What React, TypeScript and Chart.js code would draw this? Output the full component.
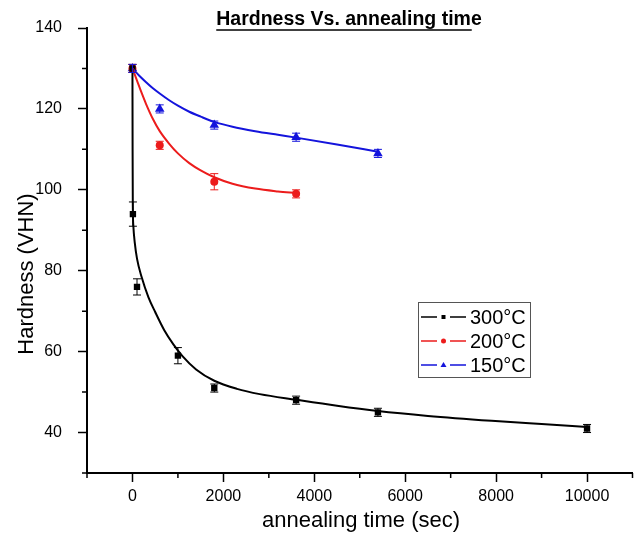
import React, { useEffect, useRef } from 'react';
import { Chart, registerables } from 'chart.js';
Chart.register(...registerables);

const FONT = '"Liberation Sans", Arial, Helvetica, sans-serif';

// Measured data (annealing time in sec, hardness in VHN)
const time300 = [0, 10, 100, 1000, 1800, 3600, 5400, 10000];
const hard300 = [130, 94, 76, 59, 51, 48, 45, 41];
const err300 = [1, 3, 2, 2, 1, 1, 1, 1];

const time200 = [0, 600, 1800, 3600];
const hard200 = [130, 111, 102, 99];
const err200 = [1, 1, 2, 1];

const time150 = [0, 600, 1800, 3600, 5400];
const hard150 = [130, 120, 116, 113, 109];
const err150 = [1, 1, 1, 1, 1];

// Fitted curves
const fitTime300 = [0, 3, 8, 20, 50, 100, 200, 350, 500, 700, 900, 1100, 1400, 1800, 2300, 2800, 3600, 4500, 5400, 6500, 7900, 9000, 10000];
const fitHard300 = [130, 110, 96, 91, 87, 83, 78.5, 73.5, 69.8, 65.3, 61.8, 58.9, 55.6, 52.8, 50.8, 49.5, 48.1, 46.6, 45.3, 44.1, 42.9, 42.1, 41.4];

const fitTime200 = [0, 100, 200, 300, 450, 600, 800, 1000, 1250, 1500, 1800, 2200, 2700, 3200, 3600];
const fitHard200 = [130, 127, 124, 121.2, 117.5, 114.5, 111.5, 109, 106.6, 104.8, 103.1, 101.5, 100.3, 99.6, 99.2];

const fitTime150 = [0, 150, 300, 450, 600, 800, 1000, 1250, 1500, 1800, 2200, 2700, 3200, 3600, 4500, 5400];
const fitHard150 = [130, 128.2, 126.6, 125.1, 123.8, 122.2, 120.8, 119.3, 118.1, 116.8, 115.6, 114.5, 113.6, 112.9, 111.2, 109.4];

const seriesLabels = ['300°C', '200°C', '150°C'];
const seriesColors = ['#000000', '#ec1c1c', '#1414dc'];
const seriesStyles = ['rect', 'circle', 'triangle'];

const xTickValues = [-1000, 0, 1000, 2000, 3000, 4000, 5000, 6000, 7000, 8000, 9000, 10000, 11000];
const xLabelValues = [0, 2000, 4000, 6000, 8000, 10000];
const yTickValues = [30, 40, 50, 60, 70, 80, 90, 100, 110, 120, 130, 140];
const yLabelValues = [40, 60, 80, 100, 120, 140];

const zip = (xs: number[], ys: number[]) => xs.map((x, i) => ({ x, y: ys[i] }));

export default function App() {
  const ref = useRef<HTMLCanvasElement>(null);
  useEffect(() => {
    const errs = [err300, err200, err150];

    const errorBars = {
      id: 'errorBars',
      afterDatasetsDraw(chart: any) {
        const { ctx } = chart;
        const xs = chart.scales.x, ys = chart.scales.y;
        chart.data.datasets.forEach((ds: any) => {
          if (ds.seriesIndex === undefined) return;
          const e = errs[ds.seriesIndex];
          ctx.save();
          ctx.strokeStyle = seriesColors[ds.seriesIndex];
          ctx.lineWidth = 1;
          ds.data.forEach((p: any, i: number) => {
            const px = xs.getPixelForValue(p.x);
            const top = ys.getPixelForValue(p.y + e[i]);
            const bot = ys.getPixelForValue(p.y - e[i]);
            ctx.beginPath();
            ctx.moveTo(px, top); ctx.lineTo(px, bot);
            ctx.moveTo(px - 4, top); ctx.lineTo(px + 4, top);
            ctx.moveTo(px - 4, bot); ctx.lineTo(px + 4, bot);
            ctx.stroke();
          });
          ctx.restore();
        });
      },
    };

    const decorations = {
      id: 'decorations',
      afterDraw(chart: any) {
        const { ctx, chartArea } = chart;
        const xs = chart.scales.x, ys = chart.scales.y;
        ctx.save();
        // minor ticks
        ctx.strokeStyle = '#000';
        ctx.lineWidth = 1.5;
        ctx.beginPath();
        xTickValues.forEach((v) => {
          if (xLabelValues.includes(v)) return;
          const px = xs.getPixelForValue(v);
          ctx.moveTo(px, chartArea.bottom); ctx.lineTo(px, chartArea.bottom + 5);
        });
        yTickValues.forEach((v) => {
          if (yLabelValues.includes(v)) return;
          const py = ys.getPixelForValue(v);
          ctx.moveTo(chartArea.left - 5, py); ctx.lineTo(chartArea.left, py);
        });
        ctx.stroke();

        // title
        ctx.fillStyle = '#000';
        ctx.font = `bold 19.5px ${FONT}`;
        ctx.textAlign = 'center';
        ctx.textBaseline = 'middle';
        const title = 'Hardness Vs. annealing time';
        const tx = 349, ty = 20;
        ctx.fillText(title, tx, ty);
        const tw = ctx.measureText(title).width;
        ctx.lineWidth = 1.5;
        ctx.beginPath();
        ctx.moveTo(tx - tw / 2, ty + 10); ctx.lineTo(tx + tw / 2 - 10, ty + 10);
        ctx.stroke();

        // axis titles
        ctx.font = `22px ${FONT}`;
        ctx.fillText('annealing time (sec)', 361, 521);
        ctx.save();
        ctx.translate(27, 274);
        ctx.rotate(-Math.PI / 2);
        ctx.fillText('Hardness (VHN)', 0, 0);
        ctx.restore();

        // legend
        const bx = 418.5, by = 302.5, bw = 112, bh = 75;
        ctx.strokeStyle = '#555';
        ctx.lineWidth = 1;
        ctx.strokeRect(bx, by, bw, bh);
        const rows = [317, 341, 365];
        seriesLabels.forEach((lab, i) => {
          const y = rows[i];
          ctx.strokeStyle = seriesColors[i];
          ctx.lineWidth = 1.5;
          ctx.beginPath();
          ctx.moveTo(421, y); ctx.lineTo(437, y);
          ctx.moveTo(450, y); ctx.lineTo(466, y);
          ctx.stroke();
          ctx.fillStyle = seriesColors[i];
          ctx.beginPath();
          if (i === 0) ctx.rect(441.5, y - 2, 4, 4);
          else if (i === 1) ctx.arc(443.5, y, 2.5, 0, Math.PI * 2);
          else { ctx.moveTo(443.5, y - 3); ctx.lineTo(446.5, y + 2); ctx.lineTo(440.5, y + 2); ctx.closePath(); }
          ctx.fill();
          ctx.fillStyle = '#000';
          ctx.font = `20px ${FONT}`;
          ctx.textAlign = 'left';
          ctx.textBaseline = 'middle';
          ctx.fillText(lab, 470, y + 1);
        });
        ctx.restore();
      },
    };

    const fits = [zip(fitTime300, fitHard300), zip(fitTime200, fitHard200), zip(fitTime150, fitHard150)];
    const pts = [zip(time300, hard300), zip(time200, hard200), zip(time150, hard150)];

    const datasets: any[] = [];
    fits.forEach((d, i) => {
      datasets.push({
        label: seriesLabels[i] + ' fit',
        data: d,
        showLine: true,
        borderColor: seriesColors[i],
        borderWidth: 2,
        pointRadius: 0,
        cubicInterpolationMode: 'monotone',
        fill: false,
      });
    });
    pts.forEach((d, i) => {
      datasets.push({
        label: seriesLabels[i],
        seriesIndex: i,
        data: d,
        showLine: false,
        pointStyle: seriesStyles[i],
        pointRadius: i === 0 ? 4.5 : i === 1 ? 4 : 5.5,
        backgroundColor: seriesColors[i],
        borderColor: seriesColors[i],
        borderWidth: 0,
      });
    });

    const chart = new Chart(ref.current!, {
      type: 'scatter',
      data: { datasets },
      options: {
        responsive: false,
        animation: false,
        devicePixelRatio: 1,
        layout: { padding: { top: 28, right: 4, left: 0, bottom: 0 } },
        plugins: { legend: { display: false }, tooltip: { enabled: false }, title: { display: false } },
        scales: {
          x: {
            type: 'linear',
            position: 'bottom',
            min: -1000,
            max: 11000,
            afterFit: (s: any) => { s.height = 61; },
            afterBuildTicks: (s: any) => { s.ticks = xTickValues.map((v) => ({ value: v })); },
            ticks: {
              autoSkip: false,
              maxRotation: 0,
              padding: 5,
              color: '#000',
              font: { family: FONT, size: 16 },
              callback: (v: any) => (xLabelValues.includes(Number(v)) ? String(v) : ''),
            },
            grid: {
              drawOnChartArea: false,
              drawTicks: true,
              tickLength: 9,
              tickWidth: 1.5,
              tickColor: (c: any) => (c.tick && xLabelValues.includes(c.tick.value) ? '#000' : 'rgba(0,0,0,0)'),
            },
            border: { color: '#000', width: 2 },
          },
          y: {
            type: 'linear',
            position: 'left',
            min: 30,
            max: 140,
            afterFit: (s: any) => { s.width = 87; },
            afterBuildTicks: (s: any) => { s.ticks = yTickValues.map((v) => ({ value: v })); },
            ticks: {
              autoSkip: false,
              padding: 16,
              color: '#000',
              font: { family: FONT, size: 16 },
              callback: (v: any) => (yLabelValues.includes(Number(v)) ? String(v) : ''),
            },
            grid: {
              drawOnChartArea: false,
              drawTicks: true,
              tickLength: 9,
              tickWidth: 1.5,
              tickColor: (c: any) => (c.tick && yLabelValues.includes(c.tick.value) ? '#000' : 'rgba(0,0,0,0)'),
            },
            border: { color: '#000', width: 2 },
          },
        },
      },
      plugins: [errorBars, decorations],
    } as any);
    return () => chart.destroy();
  }, []);

  return (
    <div style={{ position: 'fixed', left: 0, top: 0, width: 638, height: 534, background: '#fff' }}>
      <canvas ref={ref} width={638} height={534} style={{ display: 'block', width: 638, height: 534 }} />
    </div>
  );
}
